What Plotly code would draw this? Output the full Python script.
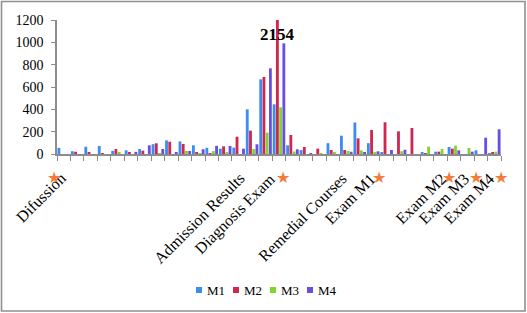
import plotly.graph_objects as go

# ---------------- data ----------------
categories = list(range(33))
series_names = ["M1", "M2", "M3", "M4"]
series_colors = ["#3D8DF0", "#CF2750", "#7ED62F", "#6A4EE0"]

m1 = [55, 25, 65, 72, 28, 33, 45, 88, 122, 113, 78, 56, 48, 57, 400, 669, 445, 78, 35, 0, 97, 164, 282, 97, 12, 0, 0, 12, 21, 63, 0, 33, 6]
m2 = [0, 20, 13, 5, 45, 14, 30, 96, 110, 90, 11, 5, 69, 155, 209, 690, 2154, 170, 63, 48, 36, 36, 140, 215, 284, 203, 233, 6, 21, 48, 0, 0, 18]
m3 = [0, 0, 0, 0, 16, 0, 0, 7, 0, 27, 5, 26, 10, 0, 45, 191, 418, 22, 0, 5, 18, 27, 33, 10, 0, 25, 0, 66, 45, 75, 54, 0, 21]
m4 = [0, 0, 0, 0, 0, 19, 78, 45, 14, 27, 43, 73, 72, 48, 87, 767, 991, 42, 6, 0, 0, 20, 18, 24, 36, 38, 0, 0, 0, 33, 21, 146, 221]
series_values = [m1, m2, m3, m4]

y_ticks = [0, 200, 400, 600, 800, 1000, 1200]
clipped_label = "2154"
clipped_index = 16

event_labels = ["Difussion", "Admission Results", "Diagnosis Exam", "Remedial Courses",
                "Exam M1", "Exam M2", "Exam M3", "Exam M4"]
# right ends of the event labels, in category units
event_label_pos = [0.6, 13.85, 16.2, 21.45, 23.65, 28.9, 30.6, 32.45]
# event stars, in category units
star_pos = [-0.72, 16.3, 23.45, 28.65, 30.65, 32.5]

# ---------------- layout helpers ----------------
W, H = 527, 313
L, R, T, B = 57, 501, 20, 154
X0, X1 = -0.5, 32.5


def px2paper_x(px):
    return (px - L) / (R - L)


def px2paper_y(py):
    return (B - py) / (B - T)


def cat2paper_x(c):
    return (c - X0) / (X1 - X0)


SERIF = "Liberation Serif, Times New Roman, serif"
AXIS_COLOR = "#8c8c8c"

fig = go.Figure()
for name, vals, col in zip(series_names, series_values, series_colors):
    fig.add_trace(go.Bar(x=categories, y=vals, name=name, marker_color=col,
                         marker_line_width=0, showlegend=False))

annotations = []
# label for clipped bar
annotations.append(dict(x=clipped_index, y=1066, xref="x", yref="y", text="<b>%s</b>" % clipped_label,
                        showarrow=False, xshift=-2,
                        font=dict(family=SERIF, size=17, color="black")))
# rotated event labels
for lab, pos in zip(event_labels, event_label_pos):
    annotations.append(dict(x=cat2paper_x(pos), y=px2paper_y(167), xref="paper", yref="paper",
                            text=lab, showarrow=False,
                            textangle=-45, xanchor="right", yanchor="top",
                            font=dict(family=SERIF, size=16, color="black")))
# event stars
for pos in star_pos:
    annotations.append(dict(x=cat2paper_x(pos), y=px2paper_y(177), xref="paper", yref="paper",
                            text="★", showarrow=False, xanchor="center", yanchor="middle",
                            font=dict(family="DejaVu Sans", size=16, color="#F47A38")))

shapes = []
# custom legend
for i, (name, col) in enumerate(zip(series_names, series_colors)):
    sx = 196 + 37 * i
    shapes.append(dict(type="rect", xref="paper", yref="paper",
                       x0=px2paper_x(sx), x1=px2paper_x(sx + 6),
                       y0=px2paper_y(293), y1=px2paper_y(287),
                       fillcolor=col, line_width=0))
    annotations.append(dict(x=px2paper_x(sx + 9), y=px2paper_y(290), xref="paper", yref="paper",
                            text=name, showarrow=False, xanchor="left", yanchor="middle",
                            font=dict(family=SERIF, size=13, color="black")))

# outer frame
shapes.append(dict(type="rect", xref="paper", yref="paper",
                   x0=px2paper_x(1.5), x1=px2paper_x(525), y0=px2paper_y(311), y1=px2paper_y(1.5),
                   line=dict(color="#8f8f8f", width=1.6), fillcolor="rgba(0,0,0,0)"))

fig.update_layout(
    width=W, height=H,
    margin=dict(l=L, r=W - R, t=T, b=H - B, pad=0),
    paper_bgcolor="white", plot_bgcolor="white",
    barmode="group", bargap=0.04, bargroupgap=0.12,
    annotations=annotations, shapes=shapes,
    font=dict(family=SERIF, color="black"),
)
fig.update_xaxes(range=[X0, X1], tickmode="array",
                 tickvals=[c - 0.5 for c in categories] + [categories[-1] + 0.5],
                 showticklabels=False, ticks="outside", ticklen=5, tickcolor=AXIS_COLOR, tickwidth=1.2,
                 showline=True, linecolor=AXIS_COLOR, linewidth=1.5, showgrid=False, zeroline=False,
                 fixedrange=True)
fig.update_yaxes(range=[0, 1200], tickmode="array", tickvals=y_ticks,
                 ticks="outside", ticklen=4, tickcolor=AXIS_COLOR, tickwidth=1.2,
                 showline=True, linecolor=AXIS_COLOR, linewidth=1.5, showgrid=False, zeroline=False,
                 tickfont=dict(family=SERIF, size=14, color="black"), ticklabelstandoff=5,
                 fixedrange=True)

fig.write_html("out.html", config={"displayModeBar": False},
               post_script="document.body.style.margin='0';document.body.style.overflow='hidden';")
